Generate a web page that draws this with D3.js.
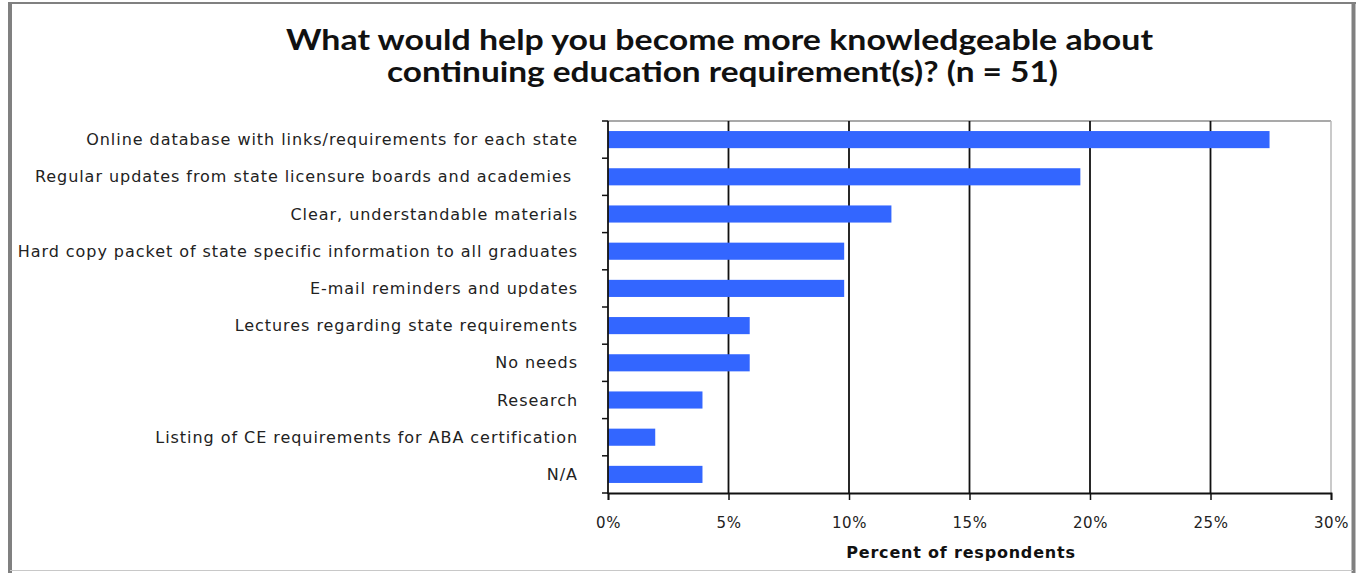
<!DOCTYPE html>
<html><head><meta charset="utf-8">
<script src="https://cdn.jsdelivr.net/npm/d3@7"></script>
<style>body{margin:0;background:#fff}svg{display:block}</style>
</head><body>
<svg id="c" width="1362" height="573"></svg>
<script>
const categories = [
  "Online database with links/requirements for each state",
  "Regular updates from state licensure boards and academies ",
  "Clear, understandable materials",
  "Hard copy packet of state specific information to all graduates",
  "E-mail reminders and updates",
  "Lectures regarding state requirements",
  "No needs",
  "Research",
  "Listing of CE requirements for ABA certification",
  "N/A"
];
const values = [27.45, 19.6, 11.76, 9.8, 9.8, 5.88, 5.88, 3.92, 1.96, 3.92];
const xTicks = [0, 5, 10, 15, 20, 25, 30];
const titleLines = ["What would help you become more knowledgeable about", "continuing education requirement(s)? (n = 51)"];
const xTitle = "Percent of respondents";

const svg = d3.select("#c");
const m = {l: 608, r: 1331, t: 121, b: 493};

// outer frame
svg.append("line").attr("x1",8).attr("x2",1356).attr("y1",3).attr("y2",3).attr("stroke","#808080").attr("stroke-width",2);
svg.append("line").attr("x1",10).attr("x2",10).attr("y1",2).attr("y2",573).attr("stroke","#808080").attr("stroke-width",4);
svg.append("line").attr("x1",1353.5).attr("x2",1353.5).attr("y1",2).attr("y2",573).attr("stroke","#808080").attr("stroke-width",4);
svg.append("line").attr("x1",10).attr("x2",1353).attr("y1",570.5).attr("y2",570.5).attr("stroke","#c8c8c8").attr("stroke-width",1);

const x = d3.scaleLinear().domain([0,30]).range([m.l, m.r]);
const y = d3.scaleBand().domain(categories).range([m.t, m.b]).paddingInner(0.54).paddingOuter(0.27);

// plot border (top & right)
svg.append("line").attr("x1",m.l).attr("x2",m.r).attr("y1",m.t).attr("y2",m.t).attr("stroke","#8c8c8c").attr("stroke-width",1.5);
svg.append("line").attr("x1",m.r).attr("x2",m.r).attr("y1",m.t).attr("y2",m.b).attr("stroke","#b8b8b8").attr("stroke-width",1.5);

// gridlines
svg.append("g").selectAll("line").data(xTicks.filter(d=>d>0&&d<30)).join("line")
  .attr("x1",d=>x(d)).attr("x2",d=>x(d)).attr("y1",m.t).attr("y2",m.b)
  .attr("stroke","#111").attr("stroke-width",1.8);

// bars
svg.append("g").selectAll("rect").data(values).join("rect")
  .attr("x", x(0)).attr("y",(d,i)=>y(categories[i]))
  .attr("width", d=>x(d)-x(0)).attr("height", y.bandwidth())
  .attr("fill","#3366ff");

// y axis
const bounds = d3.range(categories.length+1).map(i=> m.t + i*(m.b-m.t)/categories.length);
svg.append("line").attr("x1",m.l).attr("x2",m.l).attr("y1",m.t).attr("y2",m.b+1).attr("stroke","#111").attr("stroke-width",1.8);
svg.append("g").selectAll("line").data(bounds).join("line")
  .attr("x1",m.l-6).attr("x2",m.l).attr("y1",d=>d).attr("y2",d=>d).attr("stroke","#111").attr("stroke-width",1.5);
svg.append("g").selectAll("text").data(categories).join("text")
  .attr("x", 578).attr("y", d=>y(d)+y.bandwidth()/2).attr("dy","0.35em")
  .attr("text-anchor","end").attr("font-family","DejaVu Sans").attr("font-size",16)
  .attr("letter-spacing","0.95px")
  .attr("fill","#222").style("white-space","pre").text(d=>d);

// x axis
const xa = svg.append("g").attr("transform",`translate(0,${m.b})`)
  .call(d3.axisBottom(x).tickValues(xTicks).tickFormat(d=>d+"%").tickSize(7).tickPadding(17));
xa.select(".domain").attr("stroke","#111").attr("stroke-width",1.8);
xa.selectAll(".tick line").attr("stroke","#111").attr("stroke-width",1.5);
xa.selectAll(".tick text").attr("font-family","DejaVu Sans").attr("font-size",15).attr("letter-spacing","0.5px").attr("fill","#222");

svg.append("text").attr("x",961).attr("y",558).attr("text-anchor","middle")
  .attr("font-family","DejaVu Sans").attr("font-weight","bold").attr("font-size",16).attr("letter-spacing","0.8px").attr("fill","#111").text(xTitle);

// title
const tl = [[286,1153,50],[387,1058,82]];
titleLines.forEach((t,i)=>{
  svg.append("text").attr("x",tl[i][0]).attr("y",tl[i][2])
    .attr("font-family","Lato").attr("font-weight","bold").attr("font-size",28).attr("fill","#111")
    .attr("textLength",tl[i][1]-tl[i][0]).attr("lengthAdjust","spacingAndGlyphs").text(t);
});
</script>
</body></html>
